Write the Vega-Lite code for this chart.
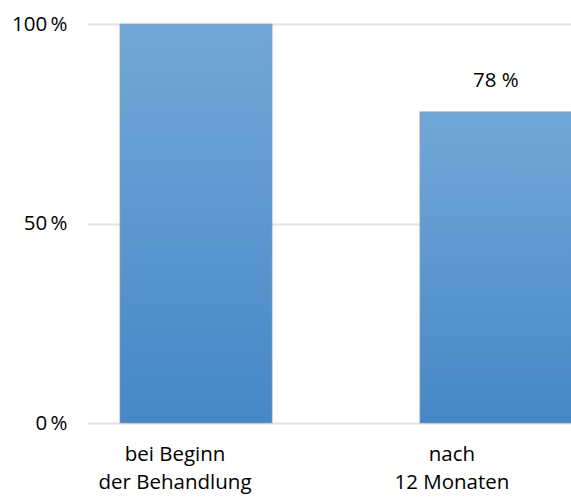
{
  "$schema": "https://vega.github.io/schema/vega-lite/v6.json",
  "width": 485,
  "height": 399,
  "autosize": "none",
  "padding": {"left": 87, "top": 24, "right": 0, "bottom": 80},
  "background": "white",
  "config": {"view": {"stroke": null}, "font": "Open Sans"},
  "data": {"values": [
    {"zeitpunkt": "bei Beginn der Behandlung", "anteil": 100, "label": ""},
    {"zeitpunkt": "nach 12 Monaten", "anteil": 78, "label": "78 %"}
  ]},
  "encoding": {
    "x": {
      "field": "zeitpunkt", "type": "nominal", "sort": null,
      "scale": {"paddingInner": 0.493, "paddingOuter": 0.055, "align": 1},
      "axis": {
        "title": null, "domain": false, "ticks": false, "grid": false,
        "labelAngle": 0, "labelFontSize": 20.5, "labelColor": "#000000",
        "labelPadding": 21, "labelLineHeight": 28, "labelBaseline": "top",
        "labelOffset": {"condition": {"test": "datum.value == 'nach 12 Monaten'", "value": -44}, "value": -21},
        "labelExpr": "datum.value == 'nach 12 Monaten' ? ['nach', '12 Monaten'] : ['bei Beginn', 'der Behandlung']"
      }
    }
  },
  "layer": [
    {
      "mark": {
        "type": "bar",
        "stroke": "#9a9a9a", "strokeWidth": 1.2, "strokeOpacity": 0.6,
        "color": {"gradient": "linear", "x1": 0, "y1": 0, "x2": 0, "y2": 1,
          "stops": [{"offset": 0, "color": "#72a8d8"}, {"offset": 1, "color": "#4687c7"}]}
      },
      "encoding": {
        "y": {
          "field": "anteil", "type": "quantitative",
          "scale": {"domain": [0, 100]},
          "axis": {
            "title": null, "domain": false, "ticks": false,
            "values": [0, 50, 100],
            "gridColor": "#e2e2e2", "gridWidth": 2,
            "labelFontSize": 20.5, "labelColor": "#000000", "labelPadding": 20,
            "labelExpr": "datum.value + '\u2009%'"
          }
        }
      }
    },
    {
      "mark": {"type": "text", "fontSize": 20.5, "color": "#000000", "baseline": "middle", "dy": -31},
      "encoding": {
        "y": {"field": "anteil", "type": "quantitative"},
        "text": {"field": "label"}
      }
    }
  ]
}
